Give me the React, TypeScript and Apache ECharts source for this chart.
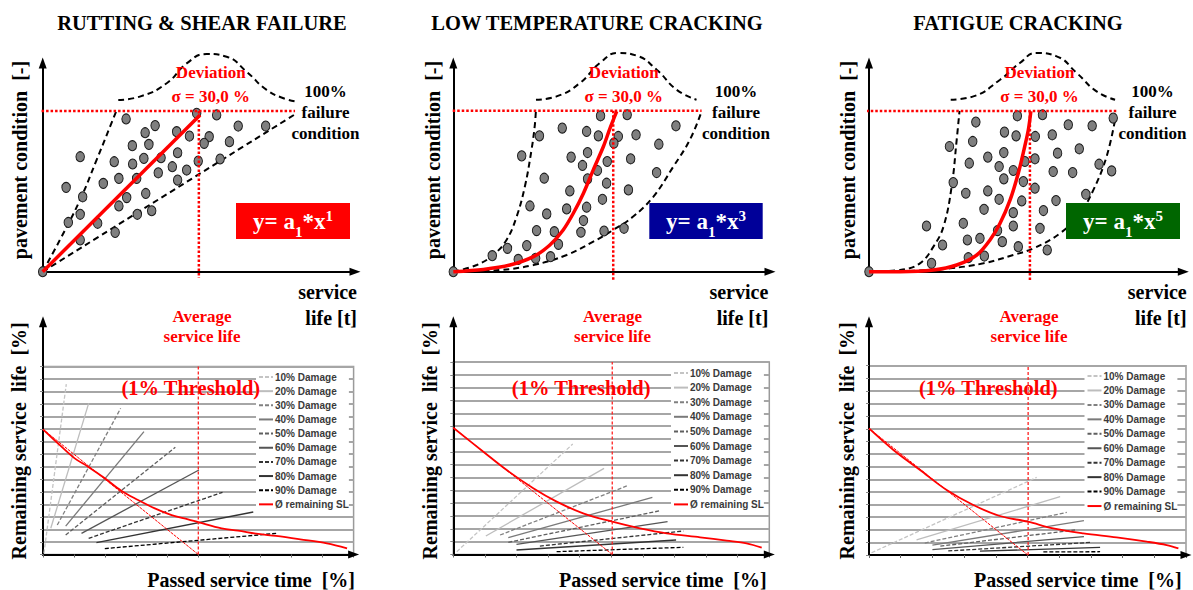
import React, { useEffect, useRef } from 'react';
import * as echarts from 'echarts';

// ---------- texts ----------
const titles = ['RUTTING & SHEAR FAILURE', 'LOW TEMPERATURE CRACKING', 'FATIGUE CRACKING'];
const exponents = ['1', '3', '5'];
const boxColors = ['#ff0000', '#000099', '#006600'];
const damageNames = ['10% Damage', '20% Damage', '30% Damage', '40% Damage', '50% Damage', '60% Damage', '70% Damage', '80% Damage', '90% Damage'];
const slName = 'Ø remaining SL';

// ---------- top panels: scatter of pavement condition ----------
const rutPoints = [[26.7,73.2],[36.0,70.0],[32.8,66.6],[42.9,67.1],[47.0,65.0],[49.3,75.9],[55.7,75.1],[62.6,69.8],[71.4,69.8],[53.3,64.7],[51.7,61.5],[59.8,62.3],[28.7,60.4],[34.0,61.0],[12.0,55.1],[22.9,52.7],[28.8,51.6],[32.4,54.3],[37.9,54.6],[43.2,57.0],[49.8,53.0],[56.8,54.0],[41.5,50.3],[46.1,48.7],[37.0,47.4],[24.4,44.7],[30.1,44.7],[43.2,43.9],[7.5,40.4],[19.4,42.3],[12.8,35.9],[26.9,35.5],[33.0,37.5],[24.4,31.5],[34.9,29.2],[30.3,27.5],[12.0,27.5],[8.2,23.6],[17.6,23.2],[23.2,18.8],[12.0,15.2],[0,0]];
const ltcPoints = [[46.5,74.7],[54.9,75.2],[34.4,68.8],[42.1,67.2],[45.8,65.1],[52.1,64.8],[57.7,65.6],[70.3,69.9],[27.2,65.1],[50.7,61.6],[64.9,61.1],[21.6,55.5],[37.2,54.9],[42.4,57.1],[48.6,52.8],[56.0,54.1],[40.8,50.9],[45.5,48.5],[28.7,44.8],[42.4,44.5],[48.4,42.4],[36.8,38.7],[47.1,34.7],[55.3,39.2],[64.2,47.5],[24.2,31.5],[29.5,27.7],[35.8,30.1],[42.1,30.9],[41.1,24.5],[26.3,19.7],[31.9,19.2],[40.3,18.9],[47.6,19.5],[53.9,20.8],[33.2,13.1],[23.2,12.5],[17.1,11.2],[12.3,7.7],[20.5,5.9],[26.0,6.4],[30.7,7.2],[0,0]];
const fatPoints = [[47.2,74.7],[55.2,75.2],[34.0,71.7],[43.1,66.9],[46.8,65.1],[52.9,64.8],[58.3,65.6],[63.4,70.4],[71.0,69.9],[77.7,73.6],[25.6,60.0],[33.0,62.4],[42.9,57.1],[37.8,54.9],[31.9,52.0],[41.4,50.4],[45.9,48.5],[49.6,52.8],[52.8,54.1],[60.0,56.8],[66.9,58.9],[73.2,51.5],[77.2,48.3],[58.6,48.0],[64.8,47.5],[26.8,42.7],[42.9,44.5],[49.1,43.2],[52.8,40.0],[30.8,37.6],[37.8,38.7],[41.4,34.7],[48.6,33.9],[59.5,34.1],[69.0,37.1],[36.6,29.9],[45.9,28.3],[55.5,29.3],[18.3,21.9],[30.0,23.2],[40.9,19.7],[45.9,21.9],[54.4,20.8],[23.4,12.8],[31.3,15.2],[35.3,16.0],[42.4,14.4],[47.5,12.0],[56.7,10.4],[19.9,4.0],[31.6,6.7],[36.7,7.5],[0,0]];

// envelopes (rising branch, deviation bell, lower branch)
const rutRise = [[0,0],[5.5,15.2],[12.0,34.5],[17.3,53.7],[21.6,69.6],[23.7,77.5]];
const rutBell = [[24.2,82.3],[31.1,83.9],[39.7,90.3],[46.1,99.8],[52.5,104.3],[58.9,103.0],[65.3,95.8],[71.7,87.1],[77.1,83.1],[81.3,81.5]];
const rutLower = [[0,0],[81.3,75.9]];
const ltcRise = [[0,0],[7.4,3.2],[12.6,8],[16.8,15.2],[20,26.4],[22.6,40.8],[24.7,58.4],[25.7,69.6],[26.1,77.6]];
const ltcBell = [[26.1,82.4],[32.6,84],[40,90.4],[46.3,100],[52.1,104.8],[57.9,103.5],[64.2,96.8],[70.5,87.2],[76.8,82.4]];
const ltcLower = [[0,0],[14.7,0.8],[25.3,3.2],[35.8,8],[44.2,14.4],[50.5,20],[56.8,26.4],[63.2,36],[69.5,50.4],[74.7,63.2],[78.4,76.8]];
const fatRise = [[0,0],[9.9,0.8],[16.2,4],[20.5,12],[23.7,21.6],[26.3,40.8],[27.9,63.2],[28.8,77.1]];
const fatBell = [[26.0,82.4],[33.2,84],[41.7,92],[48.0,100],[53.3,104.8],[59.7,103.2],[66.1,95.2],[72.4,86.4],[78.3,82.4]];
const fatLower = [[0,0],[15.2,0.5],[25.8,1.6],[36.4,4],[45.9,8],[52.3,11.2],[60.8,18.4],[67.1,28],[71.4,39.2],[75.6,55.2],[78.3,72.8]];

// model curves y = a1*x^n
const rutCurve = [[0,0],[50.4,75.1]];
const ltcCurve = [[0,0],[9.5,1.1],[17.9,3.2],[25.3,7.2],[30.5,12.8],[34.7,20],[37.9,28],[41.1,37.6],[44.2,48.8],[47.4,60],[49.5,68.8],[51.6,76.8]];
const fatCurve = [[0,0],[9.9,0],[20.5,0.8],[27.9,3.2],[34.3,8],[38.5,15.2],[41.7,23.2],[44.9,34.4],[47.5,47.2],[49.3,58.4],[50.7,68],[51.5,76.8]];

const failureLevel = [77, 77.1, 77];
const failureSpan = [[-1.8, 80.8], [-1.6, 78.4], [-2.3, 79.3]];
const avgLifeTop = [50, 50.5, 51.2];
const avgLifeTopBottom = [-3, -4, -4.8];

// ---------- bottom panels: remaining service life ----------
const rutDamage = [
  [[0.3,0.9],[7.5,136.0]],
  [[2.5,20.9],[14.7,120.6]],
  [[4.6,23.5],[25.0,116.6]],
  [[7.3,22.7],[32.5,98.0]],
  [[7.3,15.6],[42.6,85.5]],
  [[12.4,16.9],[50.2,67.4]],
  [[14.7,12.9],[57.8,49.6]],
  [[17.2,9.4],[67.7,33.9]],
  [[19.9,4.7],[75.3,16.9]],
];
const ltcDamage = [
  [[1.1,2.2],[37.8,86.1]],
  [[10.3,14.4],[47.7,67.1]],
  [[14.8,15.2],[54.9,53.4]],
  [[17.4,13.1],[63.0,44.5]],
  [[17.4,9.5],[65.6,34.2]],
  [[20.0,7.9],[67.8,25.6]],
  [[27.4,6.6],[72.8,18.3]],
  [[20.0,3.5],[70.5,11.3]],
  [[32.7,2.2],[72.8,5.6]],
];
const fatDamage = [
  [[0.8,1.8],[52.9,61.5]],
  [[15.0,11.9],[60.3,46.2]],
  [[17.6,9.5],[62.4,33.8]],
  [[20.0,7.9],[67.8,27.2]],
  [[22.5,7.0],[65.0,19.8]],
  [[20.0,4.3],[67.8,14.5]],
  [[25.0,3.2],[70.2,10.0]],
  [[35.0,3.0],[72.9,6.0]],
  [[55.0,2.4],[72.9,2.6]],
];
const rutSL = [[0,99.9],[4.8,88.7],[10.2,76.7],[14.5,70.1],[19.9,60.8],[25.2,50.9],[30.6,43.5],[36,36.8],[41.4,31.5],[46.7,28.1],[50.2,25.7],[57.5,20.9],[62.8,19.0],[69.3,16.4],[75.0,14.8],[82.8,12.1],[91.4,8.9],[97.9,4.9]];
const ltcSL = [[0,98.8],[9.5,80.1],[16.9,65.8],[25.3,51.6],[32.7,41.2],[41.1,32.1],[50.3,25.6],[59.1,20.4],[67.5,16.5],[78.1,13.4],[86.5,10.8],[92.8,8.7],[97.6,5.3]];
const fatSL = [[0,100.3],[7.7,83.2],[16.1,67.3],[24.5,51.5],[32.9,39.6],[41.3,30.9],[50.1,26.4],[58.1,21.1],[67.6,17.2],[78.1,14.0],[87.6,10.6],[93.9,7.9],[97.6,5.3]];
const slTangent = [[[0,99.9],[50,0]], [[0,98.8],[50.3,0]], [[0,100.3],[50.1,0]]];
const avgLifeBottom = [50, 50.3, 50.2];

// ---------- layout / styles ----------
const SERIF = '"Liberation Serif", "Times New Roman", serif';
const SANS = '"Liberation Sans", Arial, sans-serif';
const TOP = [
  { left: 42.7, width: 312.3 },
  { left: 453.3, width: 316.7 },
  { left: 869, width: 314.3 },
];
const TOP_Y = 63, TOP_H = 208.7;
const BOT = [
  { left: 43, top: 366.5, width: 310.6, height: 188 },
  { left: 453.3, top: 362, width: 316, height: 192.5 },
  { left: 869, top: 365.7, width: 317, height: 189.3 },
];
const ARROW_TOP = 321.7;
const LEG = [
  { left: 256, top: 369, gap: 2.15 },
  { left: 671, top: 365, gap: 2.6 },
  { left: 1084.5, top: 368, gap: 2.45 },
];
const damageStyles = [
  { color: '#c4c4c4', type: [4, 2] },
  { color: '#bdbdbd', type: 'solid' },
  { color: '#808080', type: [4, 2] },
  { color: '#7a7a7a', type: 'solid' },
  { color: '#5f5f5f', type: [4, 2] },
  { color: '#555555', type: 'solid' },
  { color: '#333333', type: [4, 2] },
  { color: '#333333', type: 'solid' },
  { color: '#000000', type: [4, 2] },
];

const topData = [
  { points: rutPoints, rise: rutRise, bell: rutBell, lower: rutLower, curve: rutCurve },
  { points: ltcPoints, rise: ltcRise, bell: ltcBell, lower: ltcLower, curve: ltcCurve },
  { points: fatPoints, rise: fatRise, bell: fatBell, lower: fatLower, curve: fatCurve },
];
const botData = [
  { damage: rutDamage, sl: rutSL },
  { damage: ltcDamage, sl: ltcSL },
  { damage: fatDamage, sl: fatSL },
];

function txt(text: string, x: number, y: number, o: any = {}) {
  return {
    type: 'text',
    x,
    y,
    rotation: o.rotation || 0,
    z: 100,
    silent: true,
    style: {
      text,
      fill: o.color || '#000',
      fontSize: o.size || 20,
      fontWeight: 'bold',
      fontFamily: o.family || SERIF,
      align: o.align || 'center',
      verticalAlign: 'middle',
      lineHeight: o.lineHeight,
      rich: o.rich,
    },
  };
}

function buildOption() {
  const grid: any[] = [];
  const xAxis: any[] = [];
  const yAxis: any[] = [];
  const series: any[] = [];
  const legend: any[] = [];
  const graphic: any[] = [];

  const arrowLine = {
    show: true,
    onZero: false,
    symbol: ['none', 'triangle'],
    symbolSize: [8, 11],
    lineStyle: { color: '#000', width: 2 },
  };
  const none = { show: false };

  // top grids 0..2
  TOP.forEach((g, i) => {
    grid.push({ left: g.left, top: TOP_Y, width: g.width, height: TOP_H, outerBoundsMode: 'none' });
    xAxis.push({ type: 'value', gridIndex: i, min: 0, max: 100, axisLine: arrowLine, axisTick: none, axisLabel: none, splitLine: none });
    yAxis.push({ type: 'value', gridIndex: i, min: 0, max: 100, axisLine: arrowLine, axisTick: none, axisLabel: none, splitLine: none });
  });
  // bottom grids 3..5
  BOT.forEach((g, i) => {
    grid.push({ left: g.left, top: g.top, width: g.width, height: g.height, show: true, borderColor: '#9a9a9a', borderWidth: 1.5, outerBoundsMode: 'none' });
    xAxis.push({ type: 'value', gridIndex: 3 + i, min: 0, max: 100, interval: 10, axisLine: arrowLine,
      axisTick: { show: true, length: 3, lineStyle: { color: '#666', width: 1 } }, axisLabel: none, splitLine: none });
    yAxis.push({ type: 'value', gridIndex: 3 + i, min: 0, max: 150, interval: 10, axisLine: none,
      axisTick: { show: true, length: 3, lineStyle: { color: '#888', width: 1 } }, axisLabel: none,
      splitLine: { show: true, lineStyle: { color: '#a6a6a6', width: 2 } } });
  });
  // bottom arrow grids 6..8
  BOT.forEach((g, i) => {
    const bottom = g.top + g.height;
    grid.push({ left: g.left, top: ARROW_TOP, width: g.width, height: bottom - ARROW_TOP, outerBoundsMode: 'none' });
    xAxis.push({ type: 'value', gridIndex: 6 + i, min: 0, max: 1, show: false });
    yAxis.push({ type: 'value', gridIndex: 6 + i, min: 0, max: 1, axisLine: arrowLine, axisTick: none, axisLabel: none, splitLine: none });
  });

  // top series
  topData.forEach((d, i) => {
    const base = { type: 'line', xAxisIndex: i, yAxisIndex: i, symbol: 'none', clip: false, silent: true };
    const dash = { color: '#000', width: 2, type: [6, 4] };
    series.push({ ...base, data: d.rise, smooth: 0.4, lineStyle: dash, z: 2 });
    series.push({ ...base, data: d.bell, smooth: 0.5, lineStyle: dash, z: 2 });
    series.push({ ...base, data: d.lower, smooth: 0.4, lineStyle: dash, z: 2 });
    series.push({ type: 'scatter', xAxisIndex: i, yAxisIndex: i, data: d.points, symbol: 'circle', symbolSize: [8.5, 10],
      itemStyle: { color: '#7f7f7f', borderColor: '#1a1a1a', borderWidth: 1, opacity: 1 }, clip: false, silent: true, z: 3 });
    series.push({ ...base, data: d.curve, smooth: 0.3, lineStyle: { color: '#ff0000', width: 3.5 }, z: 4 });
    series.push({ ...base, data: [[failureSpan[i][0], failureLevel[i]], [failureSpan[i][1], failureLevel[i]]],
      lineStyle: { color: '#ff0000', width: 2.5, type: [2.5, 2] }, z: 5 });
    series.push({ ...base, data: [[avgLifeTop[i], failureLevel[i]], [avgLifeTop[i], avgLifeTopBottom[i]]],
      lineStyle: { color: '#ff0000', width: 2.5, type: [2.5, 2] }, z: 5 });
  });

  // bottom series
  botData.forEach((d, i) => {
    const ax = 3 + i;
    const base = { type: 'line', xAxisIndex: ax, yAxisIndex: ax, symbol: 'none', showSymbol: false, clip: false, silent: true };
    d.damage.forEach((seg, j) => {
      series.push({ ...base, name: damageNames[j], data: seg,
        lineStyle: { color: damageStyles[j].color, width: 1.3, type: damageStyles[j].type }, itemStyle: { color: damageStyles[j].color }, z: 2 });
    });
    series.push({ ...base, name: slName, data: d.sl, smooth: 0.35, lineStyle: { color: '#ff0000', width: 1.8 }, itemStyle: { color: '#ff0000' }, z: 3 });
    series.push({ ...base, data: slTangent[i], lineStyle: { color: '#ff0000', width: 1, type: [3, 1] }, z: 3 });
    series.push({ ...base, data: [[avgLifeBottom[i], 0], [avgLifeBottom[i], 150]], lineStyle: { color: '#ff2020', width: 1.3, type: [3, 2] }, z: 6 });

    legend.push({
      data: [...damageNames, slName],
      orient: 'vertical',
      left: LEG[i].left,
      top: LEG[i].top,
      itemWidth: 14,
      itemHeight: 10,
      itemGap: LEG[i].gap,
      padding: [2, 0, 2, 2],
      backgroundColor: '#ffffff',
      selectedMode: false,
      itemStyle: { opacity: 0, borderWidth: 0 },
      textStyle: { fontSize: 10, fontWeight: 'bold', fontFamily: SANS, color: '#3a3a3a', lineHeight: 12, padding: [0, 0, 0, -3] },
    });
  });

  // texts
  const titleX = [202, 597, 1018];
  const yTitleTopX = [20, 433.3, 847.7];
  const devX = [210.8, 623.8, 1039.5];
  const failX = [325.5, 736, 1152.5];
  const serviceX = [357, 768.3, 1186.7];
  const boxes = [[236, 203, 114, 36], [649.3, 203, 113.4, 36], [1066, 203, 114, 36]];
  const yTitleBotX = [19.3, 430, 846.7];
  const passedX = [355, 766.7, 1181.7];
  const avgX = [202, 612.5, 1029];
  const threshX = [190.8, 581.2, 988.3];

  for (let i = 0; i < 3; i++) {
    graphic.push(txt(titles[i], titleX[i], 23, { size: 20.5 }));
    graphic.push(txt('pavement condition  [-]', yTitleTopX[i], 160, { size: 20, rotation: Math.PI / 2 }));
    graphic.push(txt('Deviation', devX[i], 72.7, { size: 17, color: '#ff0000' }));
    graphic.push(txt('σ = 30,0 %', devX[i], 96.7, { size: 17, color: '#ff0000' }));
    graphic.push(txt('100%\nfailure\ncondition', failX[i], 112.5, { size: 17, lineHeight: 20.8 }));
    graphic.push(txt('service', serviceX[i], 291.7, { size: 20, align: 'right' }));
    graphic.push(txt('life [t]', serviceX[i], 318, { size: 20, align: 'right' }));
    const b = boxes[i];
    graphic.push({ type: 'rect', z: 90, silent: true, shape: { x: b[0], y: b[1], width: b[2], height: b[3] }, style: { fill: boxColors[i] } });
    graphic.push(txt(`{m|y= a}{s|1}{m|*x}{p|${exponents[i]}}`, b[0] + b[2] / 2, b[1] + b[3] / 2, {
      color: '#fff',
      rich: {
        m: { fontSize: 23, fontWeight: 'bold', fontFamily: SERIF, fill: '#fff', color: '#fff', lineHeight: 26, verticalAlign: 'middle' },
        s: { fontSize: 15, fontWeight: 'bold', fontFamily: SERIF, fill: '#fff', color: '#fff', lineHeight: 15, verticalAlign: 'bottom', padding: [0, 0, -5, 0] },
        p: { fontSize: 15, fontWeight: 'bold', fontFamily: SERIF, fill: '#fff', color: '#fff', lineHeight: 15, verticalAlign: 'top', padding: [0, 0, 6, 0] },
      },
    }));
    graphic.push(txt('Remaining service  life  [%]', yTitleBotX[i], 440.8, { size: 20, rotation: Math.PI / 2 }));
    graphic.push(txt('Passed service time  [%]', passedX[i], 580, { size: 20, align: 'right' }));
    graphic.push(txt('Average', avgX[i], 316, { size: 17, color: '#ff0000' }));
    graphic.push(txt('service life', avgX[i], 336, { size: 17, color: '#ff0000' }));
    graphic.push(txt('(1% Threshold)', threshX[i], 387.5, { size: 20.5, color: '#ff0000' }));
  }

  return {
    animation: false,
    backgroundColor: '#ffffff',
    grid,
    xAxis,
    yAxis,
    series,
    legend,
    graphic,
  };
}

export default function App() {
  const ref = useRef<HTMLDivElement>(null);
  useEffect(() => {
    const chart = echarts.init(ref.current as HTMLDivElement, null, { renderer: 'svg' });
    chart.setOption(buildOption() as any);
    return () => chart.dispose();
  }, []);
  return (
    <div
      ref={ref}
      style={{ position: 'absolute', left: 0, top: 0, width: 1193, height: 590, background: '#fff' }}
    />
  );
}
